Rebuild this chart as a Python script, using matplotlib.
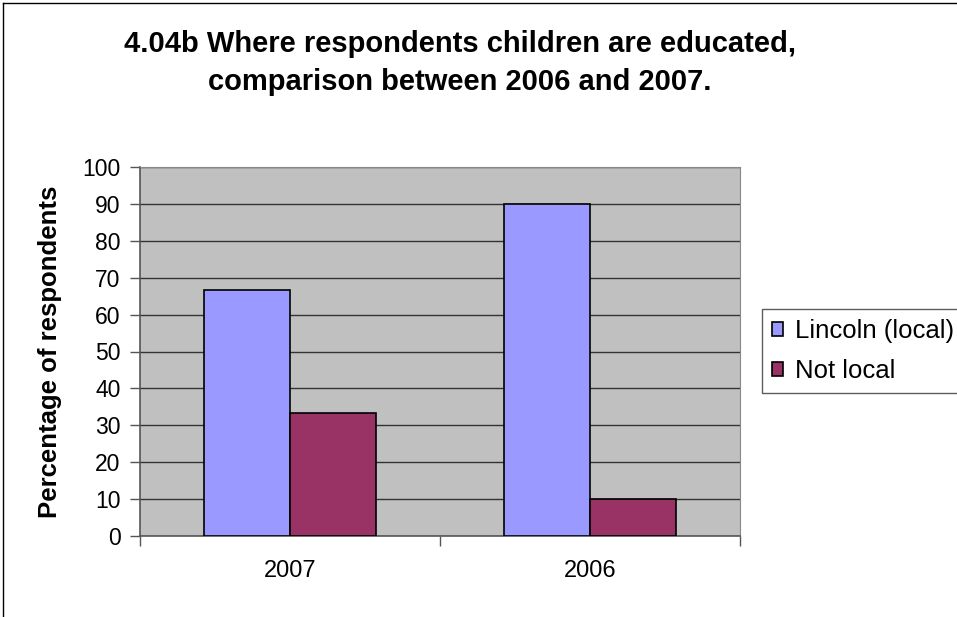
import matplotlib.pyplot as plt
import numpy as np
from matplotlib.lines import Line2D

plt.rcParams['font.family'] = ['Liberation Sans', 'DejaVu Sans']

# data
years = ['2007', '2006']
lincoln = [66.7, 90.0]
not_local = [33.3, 10.0]
y_ticks = [0, 10, 20, 30, 40, 50, 60, 70, 80, 90, 100]

W, H = 957, 617
fig = plt.figure(figsize=(W / 100, H / 100), dpi=100)
ax = fig.add_axes([140 / W, 1 - 536 / H, 600 / W, 369 / H])
ax.set_facecolor('#C0C0C0')

x = np.arange(len(years))
bw = 86 / 300
ax.bar(x - bw / 2, lincoln, bw, color='#9999FF', edgecolor='black', linewidth=1.2,
       label='Lincoln (local)', zorder=3)
ax.bar(x + bw / 2, not_local, bw, color='#993366', edgecolor='black', linewidth=1.2,
       label='Not local', zorder=3)

ax.set_xlim(-0.5, 1.5)
ax.set_ylim(0, 100)
ax.set_yticks(y_ticks)
ax.yaxis.grid(True, color='#333333', linewidth=1, zorder=1)
ax.set_axisbelow(True)

# category ticks sit on the boundaries, labels in the middle
ax.set_xticks([-0.5, 0.5, 1.5])
ax.set_xticklabels([])
ax.set_xticks(x, minor=True)
ax.set_xticklabels(years, minor=True, fontsize=17)
ax.tick_params(axis='x', which='minor', length=0, pad=17)
ax.tick_params(axis='x', which='major', length=7, width=1, color='#555555')
ax.tick_params(axis='y', labelsize=16.5, length=7, width=1, color='#555555', pad=7)

for side in ['top', 'right']:
    ax.spines[side].set_color('#888888')
for side in ['left', 'bottom']:
    ax.spines[side].set_color('#555555')
    ax.spines[side].set_linewidth(1.2)

ax.set_ylabel('Percentage of respondents', fontsize=18.5, fontweight='bold')
ax.yaxis.set_label_coords((62 - 140) / 600, (536 - 352) / 369)

fig.text(460 / W, 1 - 63 / H,
         '4.04b Where respondents children are educated,\ncomparison between 2006 and 2007.',
         ha='center', va='center', fontsize=21, fontweight='bold', linespacing=1.5)

leg = fig.legend(loc='upper left', bbox_to_anchor=(762 / W, 1 - 309 / H), fontsize=18.5,
                 frameon=True, fancybox=False, edgecolor='#333333', handlelength=0.43,
                 handleheight=0.43, handletextpad=0.45, borderpad=0.4, labelspacing=0.62,
                 borderaxespad=0)
leg.get_frame().set_linewidth(1)

# figure border (left and top only visible)
fig.add_artist(Line2D([3 / W, 3 / W], [0, 1 - 3 / H], color='black', linewidth=1))
fig.add_artist(Line2D([3 / W, 1], [1 - 3 / H, 1 - 3 / H], color='black', linewidth=1))

fig.savefig('out.png', dpi=100)
